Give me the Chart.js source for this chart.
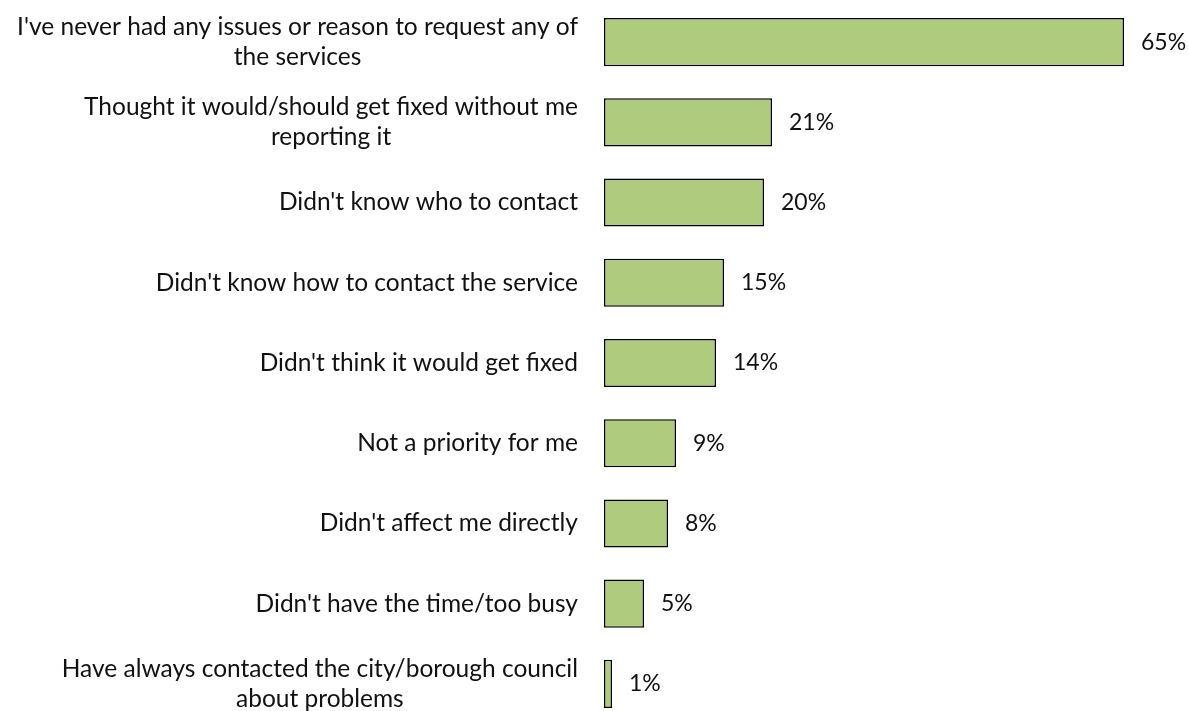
<!DOCTYPE html>
<html lang="en">
<head>
  <meta charset="UTF-8">
  <title>Reasons for not contacting services</title>
  <script src="https://cdn.jsdelivr.net/npm/chart.js"></script>
  <style>
    html, body { margin: 0; padding: 0; background: #fff; overflow: hidden; }
    canvas { display: block; }
  </style>
</head>
<body>
  <canvas id="reasonsChart" width="1189" height="726"></canvas>

  <script>
    // categories (multi-line where the label wraps)
    const reasons = [
      ["I've never had any issues or reason to request any of", "the services"],
      ["Thought it would/should get fixed without me", "reporting it"],
      "Didn't know who to contact",
      "Didn't know how to contact the service",
      "Didn't think it would get fixed",
      "Not a priority for me",
      "Didn't affect me directly",
      "Didn't have the time/too busy",
      ["Have always contacted the city/borough council", "about problems"]
    ];
    // share of respondents, %
    const shares = [65, 21, 20, 15, 14, 9, 8, 5, 1];

    const FONT = 'Lato, "Open Sans", sans-serif';
    const TEXT = '#111';

    // category labels: block right-aligned against the axis, wrapped lines centred
    const categoryLabels = {
      id: 'categoryLabels',
      afterDraw(chart) {
        const ctx = chart.ctx;
        const y = chart.scales.y;
        const right = y.right - 26;
        const lineH = 30;
        ctx.save();
        ctx.font = '24.5px ' + FONT;
        ctx.fillStyle = TEXT;
        ctx.textAlign = 'center';
        ctx.textBaseline = 'middle';
        chart.data.labels.forEach((lbl, i) => {
          const lines = Array.isArray(lbl) ? lbl : [lbl];
          const w = Math.max(...lines.map(l => ctx.measureText(l).width));
          const cx = right - w / 2;
          const cy = y.getPixelForTick(i);
          const top = cy - (lines.length - 1) * lineH / 2;
          lines.forEach((l, k) => ctx.fillText(l, cx, top + k * lineH));
        });
        ctx.restore();
      }
    };

    // writes "NN%" just past the end of each bar
    const valueLabels = {
      id: 'valueLabels',
      afterDatasetsDraw(chart) {
        const ctx = chart.ctx;
        const meta = chart.getDatasetMeta(0);
        ctx.save();
        ctx.font = '23px ' + FONT;
        ctx.fillStyle = TEXT;
        ctx.textAlign = 'left';
        ctx.textBaseline = 'middle';
        meta.data.forEach((bar, i) => {
          ctx.fillText(shares[i] + '%', bar.x + 17, bar.y);
        });
        ctx.restore();
      }
    };

    const ctx = document.getElementById('reasonsChart').getContext('2d');
    new Chart(ctx, {
      type: 'bar',
      data: {
        labels: reasons,
        datasets: [{
          data: shares,
          backgroundColor: '#AFCB7D',
          borderColor: '#000',
          borderWidth: 1.5,
          borderSkipped: false,
          barPercentage: 0.6,
          categoryPercentage: 1
        }]
      },
      options: {
        indexAxis: 'y',
        responsive: false,
        animation: false,
        layout: { padding: { left: 0, right: 25, top: 2, bottom: 2 } },
        plugins: {
          legend: { display: false },
          tooltip: { enabled: false }
        },
        scales: {
          x: { display: false, min: 0, max: 70 },
          y: {
            afterFit: s => {
              s.width = 604;
              s.paddingTop = 0;
              s.paddingBottom = 0;
            },
            grid: { display: false, drawTicks: false },
            border: { display: false },
            ticks: { display: false }
          }
        }
      },
      plugins: [valueLabels, categoryLabels]
    });
  </script>
</body>
</html>
